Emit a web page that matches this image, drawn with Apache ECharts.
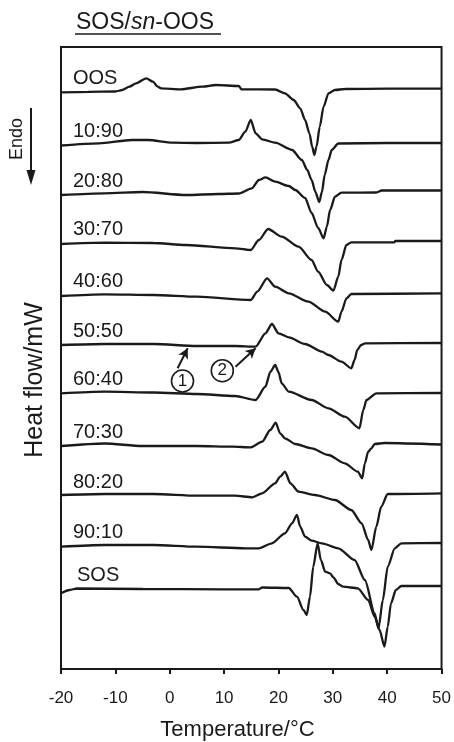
<!DOCTYPE html>
<html>
<head>
<meta charset="utf-8">
<script src="https://cdn.jsdelivr.net/npm/echarts@6/dist/echarts.min.js"></script>
<style>
  html, body { margin: 0; padding: 0; background: #fff; }
  #chart { width: 454px; height: 742px; }
</style>
</head>
<body>
<div id="chart"></div>
<script>
// DSC melting curves of SOS/sn-OOS binary mixtures, stacked from top to bottom.
const curveNames = ['OOS', '10:90', '20:80', '30:70', '40:60', '50:50', '60:40', '70:30', '80:20', '90:10', 'SOS'];
// vertical stacking offset of each curve (heat-flow units)
const baselineOffsets = [577, 524, 474, 426, 374, 324, 276, 223, 173, 123, 80];

// temperature (°C) and relative heat flow for each curve (exo up, endo down)
const tOOS = [-20, -15, -10, -8.7, -7.4, -6.2, -4.3, -3.1, -2.2, -1.6, 2, 6, 8.5, 12.7, 13.2, 19.4, 21.2, 22.8, 24.0, 24.9, 25.7, 26.2, 26.6, 27.0, 27.6, 28.3, 29.2, 30.4, 32.2, 40, 50];
const hOOS = [-0.3, 0.2, 0.5, 2, 5.3, 8.7, 13.7, 10.3, 5.3, 3.7, 2.7, 5.3, 7, 6, 2.7, 2.5, -1.3, -8, -16.3, -28, -41.3, -54.7, -63, -54.7, -34.7, -14.7, -1.3, 2, 3, 3.3, 3.3];

const t1090 = [-20, -13, -7, -4, 0.5, 5, 10.9, 12.7, 13.9, 14.9, 15.8, 17, 19.4, 22.5, 24.3, 25.3, 26.1, 26.8, 27.5, 28.0, 28.5, 29.2, 29.8, 31, 40, 50];
const h1090 = [-0.5, 1.7, 5, 5, 2.3, 2, 2.3, 5, 13.3, 25, 11.7, 5.7, 2.3, -5, -15, -25, -35, -47, -57, -47, -30, -15, -5, 1.5, 2, 2];

const t2080 = [-20, -12, -5, 3, 9, 12.7, 15.1, 16.4, 17.6, 19.4, 21.9, 23.1, 24.9, 26.1, 27.3, 28.3, 28.9, 29.5, 30.4, 31.6, 38, 39, 50];
const h2080 = [0, 1.7, 3, 0, 1, 1.5, 6.7, 15, 17.7, 13.3, 9, 5, -3, -18, -33, -43.3, -31.7, -15, -1.7, 2.3, 2.5, 4.5, 4.5];

const t3070 = [-20, -12, -3, 3, 12.1, 14.9, 16.4, 18.1, 20.6, 23.7, 26.1, 27.3, 28.9, 30.1, 31, 31.6, 32.5, 33.4, 41.3, 41.5, 50];
const h3070 = [-1, 0.3, 0, -2, -5.3, -7, 3, 14, 6.3, -3.7, -17, -28.7, -42, -47.7, -33.7, -17, -2, 0.7, 0.7, 2, 2];

const t4060 = [-20, -12, -3, 5, 14.9, 16.1, 17.9, 19.4, 21.9, 25.5, 28.6, 31, 31.6, 32.5, 33.4, 50];
const h4060 = [-1, 0.7, 0, -1.7, -5, 3.3, 16.7, 8.3, 1.7, -6.7, -16.7, -26.7, -16.7, -3.3, 1, 1.7];

const t5050 = [-20, -12, -3, 5, 12, 15.8, 17.6, 18.8, 20, 21.9, 24.9, 28, 29.2, 31.6, 33.4, 34, 34.5, 35.2, 35.9, 50];
const h5050 = [0, 1, 1, -1, -1, -1.7, 11.7, 21, 11.7, 7.7, 1, -6.7, -10, -16.7, -23.3, -15, -5, 0, 1.7, 2];

const t6040 = [-20, -12, -3, 5, 12, 15.8, 17.6, 18.5, 19.4, 20.0, 20.6, 21.9, 26.1, 29.2, 32.2, 34.9, 35.6, 36.2, 38, 50];
const h6040 = [-0.3, 1.3, 0.5, -1, -3, -7, 6.3, 21, 28, 21, 9.7, 1.3, -7, -15.3, -23.7, -35.3, -17, -7, -0.3, 0];

const t7030 = [-20, -12, -5, 5, 11.5, 14.9, 17, 18.5, 19.5, 20.3, 21.2, 23.1, 26.1, 29.2, 32.2, 34.6, 35.4, 35.9, 36.5, 37.1, 37.7, 39.5, 50];
const h7030 = [0, 2.5, 0, 0, -0.7, -1.3, 4.3, 16, 23.3, 12.7, 7.7, 2, -2.3, -9, -17.3, -25.7, -32.3, -17.3, -5.7, -2.3, 2, 3, 1.5];

const t8020 = [-20, -12, -3, 5, 12, 15.2, 17, 19.4, 20.3, 21.2, 22.2, 23.7, 26.7, 30.4, 33.4, 35.3, 36.5, 37.1, 38, 38.9, 40.1, 50];
const h8020 = [1, 2, 2, 0.3, 0.3, -1.3, 2.7, 12.7, 19.3, 24.3, 12.7, 4.3, 1, -4, -14, -27.3, -44, -54, -30.7, -10.7, 2, 2.7];

const t9010 = [-20, -12, -3, 5, 13.9, 16.4, 18.8, 21.2, 22.5, 23.4, 24, 24.9, 26.1, 28, 31, 34, 35.9, 37.7, 38.4, 39.2, 40.1, 41.4, 42.6, 50];
const h9010 = [-0.7, 1, 1, -0.7, -2.3, -2.3, 2.7, 12.7, 22.7, 31, 19.3, 9.3, 5.3, 2.7, -2.3, -14, -34, -67.3, -82.5, -54, -20.7, -2.3, 2.7, 3];

const tSOS = [-20, -18.4, -17.1, -5, 10, 16.4, 17, 21.9, 23.4, 24.6, 25.2, 25.8, 26.4, 27.2, 27.8, 28.6, 29.5, 30.1, 31, 31.9, 34.6, 36.5, 37.7, 38.6, 39.5, 40.1, 40.7, 41.6, 42.6, 50];
const hSOS = [-4.3, -1, 0.5, 0, -0.3, -0.3, 1.5, 1, -7.7, -21, -26, -7.7, 22.3, 45.7, 29, 17.3, 15.7, 11.7, 5, 2.3, 0.7, -11, -27.7, -41, -57.7, -37.7, -14.3, -1, 3, 3];

const curveTemps = [tOOS, t1090, t2080, t3070, t4060, t5050, t6040, t7030, t8020, t9010, tSOS];
const curveFlows = [hOOS, h1090, h2080, h3070, h4060, h5050, h6040, h7030, h8020, h9010, hSOS];

// x-axis ticks
const tempTicks = [-20, -10, 0, 10, 20, 30, 40, 50];

// arrows marking transitions (1) and (2) on the 50:50 curve: [label, circle T, circle flow, tail T, tail flow, head T, head flow]
const transitionMarks = [
  ['1', 2.35, 288, 1.45, 300.7, 3.3, 320.7],
  ['2', 9.67, 298.3, 12.1, 302.3, 15.8, 320.7]
];

const INK = '#1a1a1a';
const FONT = '"Liberation Sans", Arial, Helvetica, sans-serif';

const chart = echarts.init(document.getElementById('chart'), null, { renderer: 'canvas' });

const series = curveNames.map((name, i) => ({
  name: name,
  type: 'line',
  data: curveTemps[i].map((t, j) => [t, curveFlows[i][j] + baselineOffsets[i]]),
  showSymbol: false,
  smooth: 0.25,
  smoothMonotone: 'x',
  lineStyle: { color: INK, width: 2.3 },
  silent: true,
  z: 3
}));

// arrows and circled numbers
series.push({
  type: 'line',
  data: [],
  silent: true,
  markLine: {
    silent: true,
    symbol: ['none', 'arrow'],
    symbolSize: [8, 10],
    label: { show: false },
    lineStyle: { color: INK, width: 2, type: 'solid' },
    data: transitionMarks.map(m => [{ coord: [m[3], m[4]] }, { coord: [m[5], m[6]] }])
  },
  markPoint: {
    silent: true,
    symbol: 'circle',
    symbolSize: 22,
    itemStyle: { color: '#fff', borderColor: INK, borderWidth: 1.6 },
    label: { show: true, color: INK, fontSize: 17, fontFamily: FONT, formatter: p => p.name },
    data: transitionMarks.map(m => ({ name: m[0], coord: [m[1], m[2]] }))
  },
  z: 5
});

chart.setOption({
  animation: false,
  backgroundColor: '#fff',
  grid: { left: 61, right: 10, top: 47, bottom: 73, show: true, borderColor: INK, borderWidth: 2 },
  xAxis: {
    type: 'value',
    min: tempTicks[0],
    max: tempTicks[tempTicks.length - 1],
    interval: 10,
    splitLine: { show: false },
    axisLine: { show: true, lineStyle: { color: INK, width: 2 } },
    axisTick: { show: true, inside: false, length: 5, lineStyle: { color: INK, width: 2 } },
    axisLabel: { color: INK, fontSize: 17, fontFamily: FONT, margin: 21 }
  },
  yAxis: {
    type: 'value',
    min: 0,
    max: 622,
    show: false
  },
  series: series
});

// curve labels, title, axis titles and the endotherm arrow
const graphics = curveNames.map((name, i) => {
  const p = chart.convertToPixel({ gridIndex: 0 }, [-20, baselineOffsets[i]]);
  return {
    type: 'text',
    x: p[0] + (name === 'SOS' ? 16 : 12),
    y: p[1] - 14,
    style: { text: name, fill: INK, fontSize: 20, fontFamily: FONT, verticalAlign: 'middle', align: 'left' },
    z: 10
  };
});

graphics.push(
  {
    type: 'text', x: 76, y: 23,
    style: {
      text: '{a|SOS/}{b|sn}{a|-OOS}',
      verticalAlign: 'middle', align: 'left',
      rich: {
        a: { fontSize: 23, fontFamily: FONT, fill: INK },
        b: { fontSize: 23, fontFamily: FONT, fill: INK, fontStyle: 'italic' }
      }
    }
  },
  { type: 'line', shape: { x1: 75, y1: 34, x2: 221, y2: 34 }, style: { stroke: INK, lineWidth: 1.5 } },
  {
    type: 'text', x: 237.5, y: 730,
    style: { text: 'Temperature/°C', fill: INK, fontSize: 22, fontFamily: FONT, align: 'center', verticalAlign: 'middle' }
  },
  {
    type: 'text', x: 35, y: 380, rotation: Math.PI / 2,
    style: { text: 'Heat flow/mW', fill: INK, fontSize: 25, fontFamily: FONT, align: 'center', verticalAlign: 'middle' }
  },
  {
    type: 'text', x: 17, y: 139, rotation: Math.PI / 2,
    style: { text: 'Endo', fill: INK, fontSize: 18, fontFamily: FONT, align: 'center', verticalAlign: 'middle' }
  },
  { type: 'line', shape: { x1: 31, y1: 108, x2: 31, y2: 172 }, style: { stroke: INK, lineWidth: 2 } },
  { type: 'polygon', shape: { points: [[26.5, 170], [35.5, 170], [31, 185]] }, style: { fill: INK } }
);

chart.setOption({ graphic: graphics });
</script>
</body>
</html>
